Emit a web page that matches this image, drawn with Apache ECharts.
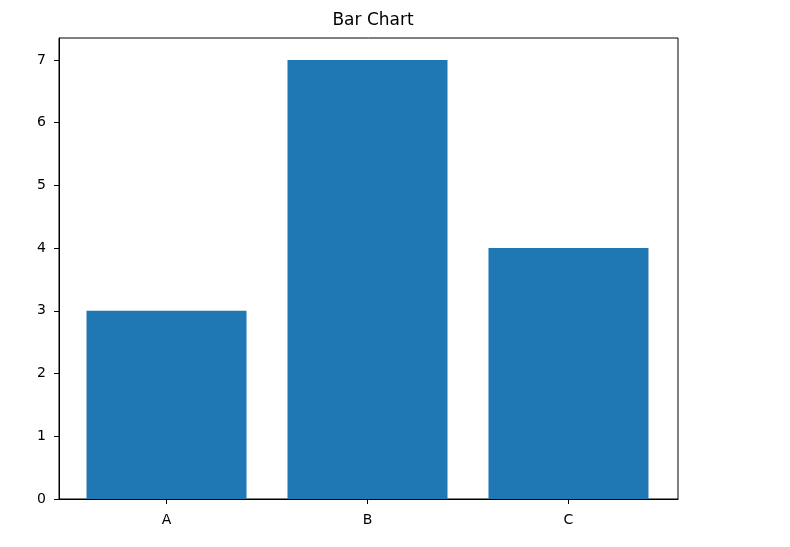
<!DOCTYPE html>
<html>
<head>
<meta charset="utf-8">
<script src="https://cdn.jsdelivr.net/npm/echarts@6/dist/echarts.min.js"></script>
<style>
  html, body { margin: 0; padding: 0; background: #fff; }
  #myChart { width: 790px; height: 547px; }
</style>
</head>
<body>
<div id="myChart"></div>
<script>
// data
var categories = ["A", "B", "C"];
var values = [3, 7, 4];
var yTicks = [0, 1, 2, 3, 4, 5, 6, 7];

var font = "DejaVu Sans";
var myChart = echarts.init(document.getElementById("myChart"));

// bars placed at 0,1,2 on a value axis, like matplotlib
var barData = values.map(function (v, i) { return [i, v]; });
var xPos = categories.map(function (c, i) { return i; });

var option = {
  animation: false,
  title: {
    text: "Bar Chart",
    left: 368,
    top: 7,
    textAlign: "center",
    textStyle: { fontFamily: font, fontSize: 17, fontWeight: "normal", color: "#000" }
  },
  grid: {
    left: 59,
    right: 112,
    top: 38,
    bottom: 48,
    show: true,
    borderColor: "#000",
    borderWidth: 1,
    containLabel: false
  },
  xAxis: {
    type: "value",
    min: -0.535,
    max: 2.545,
    splitLine: { show: false },
    axisLine: { show: true, onZero: false, lineStyle: { color: "#000" } },
    axisTick: { show: true, length: 5, customValues: xPos, lineStyle: { color: "#000" } },
    axisLabel: {
      customValues: xPos,
      margin: 14,
      color: "#000",
      fontFamily: font,
      fontSize: 14,
      formatter: function (v) { return categories[Math.round(v)]; }
    }
  },
  yAxis: {
    type: "value",
    min: 0,
    max: 7.35,
    splitLine: { show: false },
    axisLine: { show: true, onZero: false, lineStyle: { color: "#000" } },
    axisTick: { show: true, length: 5, customValues: yTicks, lineStyle: { color: "#000" } },
    axisLabel: {
      customValues: yTicks,
      margin: 13,
      color: "#000",
      fontFamily: font,
      fontSize: 14
    }
  },
  series: [
    {
      type: "bar",
      data: barData,
      barWidth: 160,
      itemStyle: { color: "#1f77b4" }
    }
  ]
};
myChart.setOption(option);
</script>
</body>
</html>
